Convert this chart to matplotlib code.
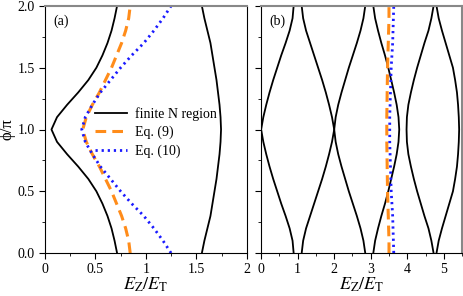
import numpy as np
import matplotlib.pyplot as plt
from matplotlib.ticker import MultipleLocator

plt.rcParams['font.family'] = ['Liberation Serif', 'DejaVu Serif']
plt.rcParams['mathtext.fontset'] = 'stix'
plt.rcParams['font.size'] = 10

# phi/pi sample points for the lower half (0..1); curves are mirrored about phi=1
phi_half = [0.0, 0.1, 0.2, 0.3, 0.4, 0.5, 0.6, 0.7, 0.8, 0.9, 1.0]

# panel (a)
a_inner = [0.715, 0.69, 0.66, 0.62, 0.57, 0.51, 0.43, 0.33, 0.22, 0.12, 0.065]
a_outer = [1.555, 1.58, 1.61, 1.64, 1.66, 1.68, 1.70, 1.715, 1.73, 1.74, 1.745]
a_eq9 = [0.845, 0.83, 0.80, 0.76, 0.71, 0.66, 0.60, 0.54, 0.47, 0.41, 0.375]
a_eq10 = [1.25, 1.17, 1.08, 0.98, 0.86, 0.75, 0.65, 0.55, 0.47, 0.40, 0.365]

# panel (b)
b_curves = [
    [0.89, 0.86, 0.78, 0.67, 0.55, 0.44, 0.33, 0.23, 0.14, 0.06, 0.0],
    [1.11, 1.15, 1.23, 1.34, 1.45, 1.56, 1.67, 1.77, 1.86, 1.94, 2.0],
    [2.85, 2.80, 2.72, 2.62, 2.51, 2.40, 2.30, 2.20, 2.11, 2.04, 2.0],
    [3.07, 3.12, 3.20, 3.29, 3.39, 3.48, 3.56, 3.64, 3.71, 3.76, 3.78],
    [4.72, 4.66, 4.58, 4.47, 4.37, 4.27, 4.18, 4.10, 4.03, 3.99, 3.98],
    [4.80, 4.86, 4.95, 5.05, 5.15, 5.25, 5.31, 5.36, 5.39, 5.41, 5.42],
]
b_eq9 = [3.50, 3.50, 3.49, 3.48, 3.47, 3.46, 3.455, 3.45, 3.445, 3.44, 3.44]
b_eq10 = [3.63, 3.62, 3.61, 3.60, 3.58, 3.56, 3.55, 3.54, 3.53, 3.52, 3.52]

y_ticks = [0.0, 0.5, 1.0, 1.5, 2.0]
a_xticks = [0, 0.5, 1, 1.5, 2]
b_xticks = [0, 1, 2, 3, 4, 5]


def mirror(vals):
    v = np.asarray(vals)
    return np.concatenate([v, v[-2::-1]])


phi = np.concatenate([np.asarray(phi_half), 2 - np.asarray(phi_half)[-2::-1]])

fig = plt.figure(figsize=(4.63, 2.96), dpi=100)
ax1 = fig.add_axes([0.097, 0.145, 0.436, 0.835])
ax2 = fig.add_axes([0.564, 0.145, 0.434, 0.835])

ax1.plot(mirror(a_inner), phi, color='black', lw=1.3, label='finite N region')
ax1.plot(mirror(a_outer), phi, color='black', lw=1.3)
ax1.plot(mirror(a_eq9), phi, color='#ff8c1a', lw=2.2, ls=(0, (3.5, 2.0)), label='Eq. (9)')
ax1.plot(mirror(a_eq10), phi, color='#1a1aff', lw=2.0, ls=(0, (0.8, 1.4)), label='Eq. (10)')

for c in b_curves:
    ax2.plot(mirror(c), phi, color='black', lw=1.3)
ax2.plot(mirror(b_eq9), phi, color='#ff8c1a', lw=2.2, ls=(0, (3.5, 2.0)))
ax2.plot(mirror(b_eq10), phi, color='#1a1aff', lw=2.0, ls=(0, (0.8, 1.4)))

ax1.set_xlim(0, 2)
ax2.set_xlim(0, 5.5)
for ax in (ax1, ax2):
    ax.set_ylim(0, 2)
    ax.set_yticks(y_ticks)
    ax.yaxis.set_minor_locator(MultipleLocator(0.25))
    ax.tick_params(which='both', direction='out', top=False, right=False, pad=3)
    ax.tick_params(which='major', length=4.5)
    ax.tick_params(which='minor', length=2.5)
    ax.spines['top'].set_color('#888888')
    ax.spines['top'].set_linewidth(1.5)
    ax.set_xlabel(r'$E_\mathrm{Z}/E_\mathrm{T}$', labelpad=-1, fontsize=13)

ax2.spines['right'].set_color('#888888')
ax2.spines['right'].set_linewidth(1.5)

ax1.set_xticks(a_xticks)
ax1.set_xticklabels(['0', '0.5', '1', '1.5', '2'])
ax1.xaxis.set_minor_locator(MultipleLocator(0.25))
ax1.set_yticklabels(['%.1f' % v for v in y_ticks])
ax1.set_ylabel('ϕ/π', labelpad=1, fontsize=12)

ax2.set_xticks(b_xticks)
ax2.xaxis.set_minor_locator(MultipleLocator(0.5))
ax2.set_yticklabels([])

ax1.text(0.04, 0.965, '(a)', transform=ax1.transAxes, va='top', ha='left')
ax2.text(0.04, 0.965, '(b)', transform=ax2.transAxes, va='top', ha='left')

ax1.legend(loc='upper left', bbox_to_anchor=(0.2, 0.63), frameon=False,
           handlelength=2.3, handletextpad=0.6, labelspacing=0.35,
           borderpad=0.2, fontsize=10)

fig.savefig('out.png', dpi=100)
